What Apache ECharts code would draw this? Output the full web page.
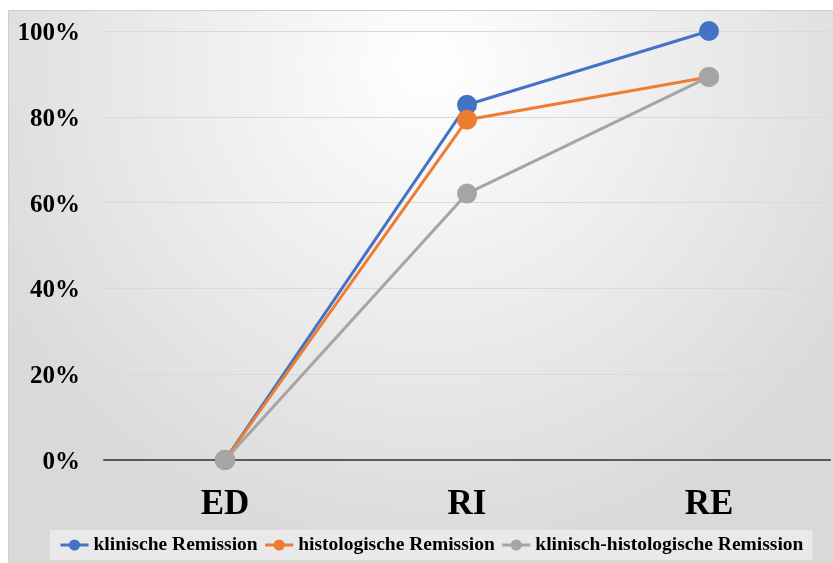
<!DOCTYPE html>
<html>
<head>
<meta charset="utf-8">
<script src="https://cdn.jsdelivr.net/npm/echarts@6/dist/echarts.min.js"></script>
<style>
  html, body { margin: 0; padding: 0; background: #ffffff; }
  #chart { width: 833px; height: 563px; }
</style>
</head>
<body>
<div id="chart"></div>
<script>
// Remission rates per time point
const categories = ['ED', 'RI', 'RE'];
const seriesNames = ['klinische Remission', 'histologische Remission', 'klinisch-histologische Remission'];
const klinisch = [0, 82.8, 100];
const histologisch = [0, 79.3, 89.3];
const klinischHistologisch = [0, 62.1, 89.3];
const yTicks = [0, 20, 40, 60, 80, 100];
const colors = ['#4472c4', '#ed7d31', '#a5a5a5'];

const serif = '"Liberation Serif", "Times New Roman", serif';

const chart = echarts.init(document.getElementById('chart'), null, { renderer: 'canvas' });

function lineSeries(name, data, color) {
  return {
    name: name,
    type: 'line',
    data: data,
    symbol: 'circle',
    symbolSize: 20,
    lineStyle: { width: 3, color: color },
    itemStyle: { color: color },
    emphasis: { disabled: true }
  };
}

chart.setOption({
  animation: false,
  color: colors,
  graphic: [{
    type: 'rect',
    z: -100,
    shape: { x: 8.5, y: 10.5, width: 840, height: 560 },
    style: {
      fill: {
        type: 'radial', x: 0.5, y: 0.1, r: 0.9,
        colorStops: [
          { offset: 0, color: '#ffffff' },
          { offset: 1, color: '#d9d9d9' }
        ]
      },
      stroke: '#d0d0d0',
      lineWidth: 1
    }
  }],
  grid: { left: 104, right: 3, top: 31, bottom: 103 },
  xAxis: {
    type: 'category',
    data: categories,
    boundaryGap: true,
    axisTick: { show: false },
    axisLine: { lineStyle: { color: '#595959', width: 2 } },
    axisLabel: {
      margin: 27,
      color: '#000',
      fontFamily: serif,
      fontWeight: 'bold',
      fontSize: 35
    }
  },
  yAxis: {
    type: 'value',
    min: yTicks[0],
    max: yTicks[yTicks.length - 1],
    interval: 20,
    axisLine: { show: false },
    axisTick: { show: false },
    splitLine: { lineStyle: { color: '#d9d9d9', width: 1 } },
    axisLabel: {
      margin: 24,
      formatter: v => '{v|' + v + '%}',
      rich: {
        v: {
          color: '#000',
          fontFamily: serif,
          fontWeight: 'bold',
          fontSize: 25,
          padding: [5, 0, 0, 0]
        }
      }
    }
  },
  legend: {
    bottom: 3,
    left: 50,
    data: seriesNames,
    itemWidth: 28,
    itemHeight: 14,
    itemGap: 6,
    padding: [5, 9],
    backgroundColor: '#e9e9e9',
    lineStyle: { width: 3 },
    textStyle: {
      color: '#000',
      fontFamily: serif,
      fontWeight: 'bold',
      fontSize: 19.5
    }
  },
  series: [
    lineSeries(seriesNames[0], klinisch, colors[0]),
    lineSeries(seriesNames[1], histologisch, colors[1]),
    lineSeries(seriesNames[2], klinischHistologisch, colors[2])
  ]
});
</script>
</body>
</html>
